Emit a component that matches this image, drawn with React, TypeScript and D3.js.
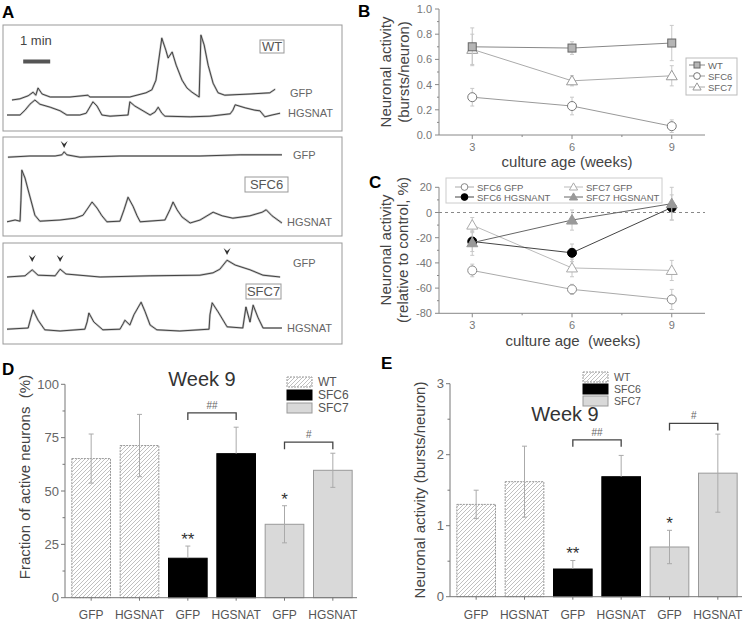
import React from "react";
import * as d3 from "d3";

// ---------- panel A: calcium traces, [time (s), dF (a.u.)] ----------
const wtGfpTrace: [number, number][] = [
  [11, -0.05], [29, -0.03], [47, 0.02], [58, 0.08], [64, 0.03], [69, 0.15], [78, 0.05], [96, 0],
  [140, 0], [180, 0.03], [184, 0], [273, 0], [309, 0.07], [322, 0.12], [331, 0.28], [344, 0.98],
  [353, 0.78], [358, 0.65], [367, 0.75], [376, 0.53], [389, 0.28], [400, 0.15], [411, 0.08],
  [427, 0], [431, 1.03], [438, 0.87], [447, 0.53], [458, 0.23], [469, 0.07], [484, 0.03],
  [540, 0.05], [584, 0.07], [596, 0.13],
];
const wtHgsTrace: [number, number][] = [
  [0, 0], [29, 0], [40, 0.08], [51, 0.18], [62, 0.25], [73, 0.18], [96, 0.13], [118, 0.07],
  [133, 0], [162, 0], [176, 0.03], [191, 0.22], [200, 0.15], [211, 0], [229, -0.02], [269, 0],
  [273, 0.22], [284, 0.15], [300, 0.08], [318, 0], [329, 0.05], [336, 0.13], [344, 0.03],
  [351, -0.02], [407, -0.03], [451, -0.02], [496, 0.02], [502, 0.08], [507, 0.17], [529, 0.12],
  [551, 0.08], [562, 0.07], [573, -0.03], [589, 0], [607, 0.03],
];
const sfc6GfpTrace: [number, number][] = [
  [2, -0.02], [51, 0], [107, 0], [122, 0.02], [127, 0.07], [133, 0.02], [162, -0.02],
  [251, 0], [340, 0], [429, 0], [518, 0.02], [611, 0.02],
];
const sfc6HgsTrace: [number, number][] = [
  [0, -0.03], [18, 0], [29, -0.02], [31, 0.33], [33, 0.83], [40, 0.7], [47, 0.5], [56, 0.25],
  [62, 0.08], [73, -0.02], [118, 0], [151, 0.03], [169, 0.08], [180, 0.2], [189, 0.3], [200, 0.2],
  [211, 0.07], [222, -0.03], [251, -0.02], [260, 0.17], [269, 0.38], [280, 0.23], [289, 0.07],
  [296, -0.03], [351, 0], [362, 0.17], [369, 0.3], [378, 0.17], [389, 0.05], [407, -0.05],
  [429, 0], [458, 0.13], [478, 0.07], [502, 0.03], [540, 0.07], [567, 0.13], [576, 0.17],
  [589, 0.07], [611, -0.05],
];
const sfc7GfpTrace: [number, number][] = [
  [0, 0], [40, 0.02], [56, 0.12], [69, 0.03], [107, 0.02], [118, 0.13], [131, 0.05], [207, 0],
  [318, 0.02], [429, 0.03], [458, 0.07], [473, 0.13], [489, 0.28], [507, 0.2], [540, 0.12],
  [569, 0.03], [607, 0],
];
const sfc7HgsTrace: [number, number][] = [
  [0, -0.02], [47, 0], [53, 0.17], [58, 0.3], [69, 0.13], [84, -0.03], [118, -0.05], [173, -0.02],
  [178, 0.1], [182, 0.25], [193, 0.1], [213, -0.03], [251, -0.02], [258, 0.07], [262, 0.13],
  [273, 0.05], [282, 0.22], [298, 0.43], [307, 0.27], [318, 0.05], [333, -0.03], [384, -0.05],
  [449, -0.02], [451, 0.22], [456, 0.42], [469, 0.27], [489, 0.02], [524, 0], [531, 0.35],
  [540, 0.1], [547, 0.38], [558, 0.17], [569, 0], [611, 0],
];
const sfc6GfpArrows = [127];
const sfc7GfpArrows = [56, 118, 489];

// ---------- panel B ----------
const weeks = [3, 6, 9];
const wtBursts = [0.7, 0.69, 0.73];
const wtBurstsErr = [0.15, 0.05, 0.14];
const sfc6Bursts = [0.3, 0.23, 0.07];
const sfc6BurstsErr = [0.07, 0.07, 0.05];
const sfc7Bursts = [0.68, 0.43, 0.47];
const sfc7BurstsErr = [0.12, 0.04, 0.08];

// ---------- panel C ----------
const sfc6GfpRel = [-46, -61, -69];
const sfc6GfpRelErr = [5, 4, 8];
const sfc6HgsRel = [-23, -32, 4];
const sfc6HgsRelErr = [8, 7, 10];
const sfc7GfpRel = [-10, -44, -46];
const sfc7GfpRelErr = [6, 7, 8];
const sfc7HgsRel = [-24, -6, 7];
const sfc7HgsRelErr = [10, 8, 13];

// ---------- panels D, E ----------
const barLabels = ["GFP", "HGSNAT", "GFP", "HGSNAT", "GFP", "HGSNAT"];
const barGroups = ["WT", "WT", "SFC6", "SFC6", "SFC7", "SFC7"];
const activeFraction = [65.2, 71.3, 18.5, 67.5, 34.4, 59.7];
const activeFractionErr = [11.5, 14.6, 5.7, 12.4, 8.7, 8];
const burstRate = [1.3, 1.62, 0.39, 1.69, 0.7, 1.74];
const burstRateErr = [0.2, 0.5, 0.12, 0.3, 0.235, 0.55];

const FONT = "'Liberation Sans', Arial, Helvetica, sans-serif";

const Marker = ({ shape, x, y, fill, stroke, s = 1 }: any) => {
  if (shape === "square")
    return <rect x={x - 4 * s} y={y - 4 * s} width={8 * s} height={8 * s} fill={fill} stroke={stroke} />;
  if (shape === "circle") return <circle cx={x} cy={y} r={4.5 * s} fill={fill} stroke={stroke} />;
  return (
    <path
      d={`M${x},${y - 5.5 * s}L${x - 5.5 * s},${y + 4 * s}L${x + 5.5 * s},${y + 4 * s}Z`}
      fill={fill}
      stroke={stroke}
    />
  );
};

// ---------------- Panel A ----------------
const PanelA = () => {
  const x = d3.scaleLinear().domain([0, 620]).range([7, 286]);
  const traces = [
    { data: wtGfpTrace, base: 97 },
    { data: wtHgsTrace, base: 115 },
    { data: sfc6GfpTrace, base: 156 },
    { data: sfc6HgsTrace, base: 220 },
    { data: sfc7GfpTrace, base: 277 },
    { data: sfc7HgsTrace, base: 328 },
  ];
  const boxes = [
    { y: 25, h: 106 },
    { y: 137, h: 99 },
    { y: 243, h: 101 },
  ];
  const labels = [
    { t: "GFP", x: 290, y: 97 },
    { t: "HGSNAT", x: 288, y: 117 },
    { t: "GFP", x: 293, y: 159 },
    { t: "HGSNAT", x: 287, y: 226 },
    { t: "GFP", x: 293, y: 267 },
    { t: "HGSNAT", x: 287, y: 332 },
  ];
  const tags = [
    { t: "WT", x: 260, y: 40, w: 24, h: 13 },
    { t: "SFC6", x: 245, y: 177, w: 43, h: 15 },
    { t: "SFC7", x: 246, y: 284, w: 35, h: 15 },
  ];
  const arrow = (t: number, yTip: number, k: string) => {
    const ax = x(t);
    return (
      <path
        key={k}
        d={`M${ax - 3.5},${yTip - 7}L${ax},${yTip}L${ax + 3.5},${yTip - 7}L${ax},${yTip - 4}Z`}
        fill="#333"
      />
    );
  };
  return (
    <g>
      {boxes.map((b, i) => (
        <rect key={i} x={3} y={b.y} width={339} height={b.h} fill="none" stroke="#999" />
      ))}
      {traces.map((tr, i) => {
        const y = d3.scaleLinear().domain([0, 1]).range([tr.base, tr.base - 60]);
        const line = d3
          .line<[number, number]>()
          .x((d) => x(d[0]))
          .y((d) => y(d[1]));
        const dd = line(tr.data) || "";
        return (
          <g key={i}>
            <path d={dd} fill="none" stroke="#c4c4c4" strokeWidth={2.2} strokeLinejoin="round" />
            <path d={dd} fill="none" stroke="#222" strokeWidth={0.8} strokeLinejoin="round" />
          </g>
        );
      })}
      {labels.map((l, i) => (
        <text key={i} x={l.x} y={l.y} fontSize={11} fill="#666">
          {l.t}
        </text>
      ))}
      {tags.map((t, i) => (
        <g key={i}>
          <rect x={t.x} y={t.y} width={t.w} height={t.h} fill="#fff" stroke="#999" />
          <text x={t.x + t.w / 2} y={t.y + t.h / 2 + 4.5} textAnchor="middle" fontSize={13} fill="#555">
            {t.t}
          </text>
        </g>
      ))}
      {sfc6GfpArrows.map((t, i) => arrow(t, 148, "a6" + i))}
      {sfc7GfpArrows.map((t, i) => arrow(t, t > 400 ? 255 : 262, "a7" + i))}
      <text x={20} y={45} fontSize={13} fill="#444">
        1 min
      </text>
      <rect x={x(36)} y={59.5} width={x(96) - x(36)} height={4} fill="#555" />
    </g>
  );
};

// ---------------- line panel helpers ----------------
const xWeeks = d3.scaleLinear().domain([2, 10]).range([439, 705]);

const LineAxes = ({ y, major, minor, fmt, y0, y1 }: any) => (
  <g stroke="#888" fill="none">
    <line x1={439} x2={439} y1={y0} y2={y1} />
    <line x1={439} x2={705} y1={y0} y2={y0} />
    {major.map((v: number) => (
      <line key={"M" + v} x1={435} x2={439} y1={y(v)} y2={y(v)} />
    ))}
    {minor.map((v: number) => (
      <line key={"m" + v} x1={437} x2={439} y1={y(v)} y2={y(v)} />
    ))}
    {weeks.map((w) => (
      <line key={"w" + w} x1={xWeeks(w)} x2={xWeeks(w)} y1={y0} y2={y0 + 4} />
    ))}
    {[4.5, 7.5].map((w) => (
      <line key={"mw" + w} x1={xWeeks(w)} x2={xWeeks(w)} y1={y0} y2={y0 + 2} />
    ))}
    {major.map((v: number) => (
      <text key={"t" + v} x={432} y={y(v) + 4} fontSize={11} fill="#777" stroke="none" textAnchor="end">
        {fmt(v)}
      </text>
    ))}
    {weeks.map((w) => (
      <text key={"tw" + w} x={xWeeks(w)} y={y0 + 16} fontSize={11} fill="#777" stroke="none" textAnchor="middle">
        {w}
      </text>
    ))}
  </g>
);

const Series = ({ y, vals, errs, shape, fill, stroke, lineColor }: any) => {
  const pts = weeks.map((w, i) => [xWeeks(w), y(vals[i])] as [number, number]);
  return (
    <g>
      {weeks.map((w, i) => (
        <g key={i} stroke="#c8c8c8">
          <line x1={xWeeks(w)} x2={xWeeks(w)} y1={y(vals[i] - errs[i])} y2={y(vals[i] + errs[i])} />
          <line x1={xWeeks(w) - 2} x2={xWeeks(w) + 2} y1={y(vals[i] - errs[i])} y2={y(vals[i] - errs[i])} />
          <line x1={xWeeks(w) - 2} x2={xWeeks(w) + 2} y1={y(vals[i] + errs[i])} y2={y(vals[i] + errs[i])} />
        </g>
      ))}
      <path d={d3.line()(pts) || ""} fill="none" stroke={lineColor} />
      {pts.map((p, i) => (
        <Marker key={i} shape={shape} x={p[0]} y={p[1]} fill={fill} stroke={stroke} />
      ))}
    </g>
  );
};

const LegendItem = ({ x, y, label, shape, fill, stroke, lineColor, w = 19 }: any) => (
  <g>
    <line x1={x} x2={x + w} y1={y} y2={y} stroke={lineColor} />
    <Marker shape={shape} x={x + w / 2} y={y} fill={fill} stroke={stroke} s={0.75} />
    <text x={x + w + 3} y={y + 3.5} fontSize={9.5} fill="#666">
      {label}
    </text>
  </g>
);

// ---------------- Panel B ----------------
const PanelB = () => {
  const y = d3.scaleLinear().domain([0, 1]).range([135, 9]);
  return (
    <g>
      <LineAxes
        y={y}
        y0={135}
        y1={9}
        major={d3.range(0, 1.01, 0.2)}
        minor={d3.range(0.1, 1, 0.2)}
        fmt={d3.format(".1f")}
      />
      <Series y={y} vals={sfc6Bursts} errs={sfc6BurstsErr} shape="circle" fill="#fff" stroke="#777" lineColor="#999" />
      <Series y={y} vals={sfc7Bursts} errs={sfc7BurstsErr} shape="tri" fill="#fff" stroke="#999" lineColor="#aaa" />
      <Series y={y} vals={wtBursts} errs={wtBurstsErr} shape="square" fill="#b5b5b5" stroke="#666" lineColor="#888" />
      <rect x={686} y={58} width={51} height={37} fill="#fff" stroke="#bbb" />
      <LegendItem x={689} y={65} w={16} label="WT" shape="square" fill="#b5b5b5" stroke="#666" lineColor="#888" />
      <LegendItem x={689} y={76} w={16} label="SFC6" shape="circle" fill="#fff" stroke="#777" lineColor="#999" />
      <LegendItem x={689} y={87} w={16} label="SFC7" shape="tri" fill="#fff" stroke="#999" lineColor="#aaa" />
      <text x={567} y={167} fontSize={15} fill="#444" textAnchor="middle">
        culture age (weeks)
      </text>
      <text transform="translate(391,72) rotate(-90)" fontSize={15} fill="#444" textAnchor="middle">
        Neuronal activity
      </text>
      <text transform="translate(409,72) rotate(-90)" fontSize={15} fill="#444" textAnchor="middle">
        (bursts/neuron)
      </text>
    </g>
  );
};

// ---------------- Panel C ----------------
const PanelC = () => {
  const y = d3.scaleLinear().domain([-80, 20]).range([313.3, 187.3]);
  return (
    <g>
      <LineAxes
        y={y}
        y0={313.3}
        y1={187.3}
        major={d3.range(-80, 21, 20)}
        minor={d3.range(-70, 20, 20)}
        fmt={(v: number) => String(v)}
      />
      <line x1={439} x2={705} y1={y(0)} y2={y(0)} stroke="#888" strokeDasharray="3,3" />
      <Series y={y} vals={sfc6GfpRel} errs={sfc6GfpRelErr} shape="circle" fill="#fff" stroke="#888" lineColor="#aaa" />
      <Series y={y} vals={sfc7GfpRel} errs={sfc7GfpRelErr} shape="tri" fill="#fff" stroke="#aaa" lineColor="#bbb" />
      <Series y={y} vals={sfc6HgsRel} errs={sfc6HgsRelErr} shape="circle" fill="#000" stroke="#000" lineColor="#444" />
      <Series y={y} vals={sfc7HgsRel} errs={sfc7HgsRelErr} shape="tri" fill="#999" stroke="#999" lineColor="#666" />
      <rect x={446} y={178} width={216} height={25} fill="#fff" stroke="#ccc" />
      <LegendItem x={455} y={187} label="SFC6 GFP" shape="circle" fill="#fff" stroke="#888" lineColor="#aaa" />
      <LegendItem x={455} y={197} label="SFC6 HGSNANT" shape="circle" fill="#000" stroke="#000" lineColor="#444" />
      <LegendItem x={564} y={187} label="SFC7 GFP" shape="tri" fill="#fff" stroke="#aaa" lineColor="#bbb" />
      <LegendItem x={564} y={197} label="SFC7 HGSNANT" shape="tri" fill="#999" stroke="#999" lineColor="#666" />
      <text x={573} y={346} fontSize={15} fill="#444" textAnchor="middle" style={{ whiteSpace: "pre" }}>
        {"culture age  (weeks)"}
      </text>
      <text transform="translate(391,250) rotate(-90)" fontSize={15} fill="#444" textAnchor="middle">
        Neuronal activity
      </text>
      <text transform="translate(408,250) rotate(-90)" fontSize={15} fill="#444" textAnchor="middle">
        (relative to control, %)
      </text>
    </g>
  );
};

// ---------------- Bar panels ----------------
const groupStyle: any = {
  WT: { fill: "url(#hatch)", stroke: "#999", dash: "2,1" },
  SFC6: { fill: "#000", stroke: "#000", dash: null },
  SFC7: { fill: "#d9d9d9", stroke: "#999", dash: null },
};

const BarPanel = ({ cfg }: any) => {
  const x = d3.scaleBand<number>().domain(d3.range(barLabels.length)).range(cfg.xr).paddingInner(0.2).paddingOuter(0.1);
  const y = d3.scaleLinear().domain(cfg.yd).range(cfg.yr);
  const ax = cfg.axisX;
  const y0 = y(0);
  const cx = (i: number) => (x(i) || 0) + x.bandwidth() / 2;
  return (
    <g>
      {cfg.vals.map((v: number, i: number) => {
        const st = groupStyle[barGroups[i]];
        return (
          <rect
            key={i}
            x={x(i)}
            y={y(v)}
            width={x.bandwidth()}
            height={y0 - y(v)}
            fill={st.fill}
            stroke={st.stroke}
            strokeDasharray={st.dash || undefined}
          />
        );
      })}
      {cfg.vals.map((v: number, i: number) => {
        const e = cfg.errs[i];
        const lo = barGroups[i] === "SFC6" ? v : v - e;
        return (
          <g key={"e" + i} stroke="#aaa">
            <line x1={cx(i)} x2={cx(i)} y1={y(lo)} y2={y(v + e)} />
            <line x1={cx(i) - 2.5} x2={cx(i) + 2.5} y1={y(v + e)} y2={y(v + e)} />
            {barGroups[i] !== "SFC6" && <line x1={cx(i) - 2.5} x2={cx(i) + 2.5} y1={y(v - e)} y2={y(v - e)} />}
          </g>
        );
      })}
      {/* axes */}
      <g stroke="#777" fill="none">
        <line x1={ax} x2={ax} y1={y0} y2={y(cfg.yd[1])} />
        <line x1={ax} x2={cfg.xr[1]} y1={y0} y2={y0} />
        {cfg.major.map((v: number) => (
          <line key={"M" + v} x1={ax - 4} x2={ax} y1={y(v)} y2={y(v)} />
        ))}
        {cfg.minor.map((v: number) => (
          <line key={"m" + v} x1={ax - 2.5} x2={ax} y1={y(v)} y2={y(v)} />
        ))}
        {barLabels.map((_, i) => (
          <line key={"x" + i} x1={cx(i)} x2={cx(i)} y1={y0} y2={y0 + 3} />
        ))}
      </g>
      {cfg.major.map((v: number) => (
        <text key={"t" + v} x={ax - 6} y={y(v) + 4.5} fontSize={13} fill="#666" textAnchor="end">
          {v}
        </text>
      ))}
      {barLabels.map((l, i) => (
        <text key={"l" + i} x={cx(i)} y={619} fontSize={12} fill="#555" textAnchor="middle">
          {l}
        </text>
      ))}
      {/* significance */}
      {cfg.stars.map((s: any, i: number) => (
        <text
          key={"s" + i}
          x={cx(s.i)}
          y={y(cfg.vals[s.i] + cfg.errs[s.i]) - 1}
          fontSize={17}
          fill="#333"
          textAnchor="middle"
        >
          {s.t}
        </text>
      ))}
      {cfg.brackets.map((b: any, i: number) => {
        const by = y(b.v);
        return (
          <g key={"b" + i}>
            <path
              d={`M${cx(b.a)},${by + 7}V${by}H${cx(b.b)}V${by + 7}`}
              fill="none"
              stroke="#444"
              strokeWidth={1.3}
            />
            <text x={(cx(b.a) + cx(b.b)) / 2} y={by - 4} fontSize={10} fill="#666" textAnchor="middle">
              {b.t}
            </text>
          </g>
        );
      })}
      {/* title & legend */}
      <text x={cfg.title[0]} y={cfg.title[1]} fontSize={20} fill="#333" textAnchor="middle">
        Week 9
      </text>
      {["WT", "SFC6", "SFC7"].map((g, i) => {
        const st = groupStyle[g];
        const ly = cfg.legend[1] + i * cfg.legendStep;
        return (
          <g key={g}>
            <rect
              x={cfg.legend[0]}
              y={ly}
              width={25}
              height={10}
              fill={st.fill}
              stroke={st.stroke}
              strokeDasharray={st.dash || undefined}
            />
            <text x={cfg.legend[0] + 31} y={ly + 9} fontSize={cfg.legendFont} fill="#555">
              {g}
            </text>
          </g>
        );
      })}
      <text
        transform={`translate(${cfg.ylab[0]},${cfg.ylab[1]}) rotate(-90)`}
        fontSize={15}
        fill="#444"
        textAnchor="middle"
        style={{ whiteSpace: "pre" }}
      >
        {cfg.ytitle}
      </text>
    </g>
  );
};

const dCfg = {
  xr: [67, 357],
  yd: [0, 100],
  yr: [597.7, 384.3],
  axisX: 65,
  vals: activeFraction,
  errs: activeFractionErr,
  major: [0, 25, 50, 75, 100],
  minor: [12.5, 37.5, 62.5, 87.5],
  stars: [
    { i: 2, t: "**" },
    { i: 4, t: "*" },
  ],
  brackets: [
    { a: 2, b: 3, v: 86.6, t: "##" },
    { a: 4, b: 5, v: 72.9, t: "#" },
  ],
  title: [202, 386],
  legend: [287, 377],
  legendStep: 13,
  legendFont: 12,
  ylab: [30, 477],
  ytitle: "Fraction of active neurons  (%)",
};

const eCfg = {
  xr: [452, 742],
  yd: [0, 3],
  yr: [596.7, 383.7],
  axisX: 450,
  vals: burstRate,
  errs: burstRateErr,
  major: [0, 1, 2, 3],
  minor: [0.5, 1.5, 2.5],
  stars: [
    { i: 2, t: "**" },
    { i: 4, t: "*" },
  ],
  brackets: [
    { a: 2, b: 3, v: 2.21, t: "##" },
    { a: 4, b: 5, v: 2.44, t: "#" },
  ],
  title: [565, 421],
  legend: [583, 372],
  legendStep: 12,
  legendFont: 10.5,
  ylab: [425, 490],
  ytitle: "Neuronal activity (bursts/neuron)",
};

export default function App() {
  return (
    <svg
      width={745}
      height={621}
      fontFamily={FONT}
      style={{ position: "absolute", left: 0, top: 0, background: "#fff" }}
    >
      <defs>
        <pattern id="hatch" patternUnits="userSpaceOnUse" width={4} height={4}>
          <rect width={4} height={4} fill="#fff" />
          <path d="M-1,1L1,-1M0,4L4,0M3,5L5,3" stroke="#a5a5a5" strokeWidth={0.7} />
        </pattern>
      </defs>
      <PanelA />
      <PanelB />
      <PanelC />
      <BarPanel cfg={dCfg} />
      <BarPanel cfg={eCfg} />
      <g fontWeight="bold" fontSize={17} fill="#000">
        <text x={2} y={18}>A</text>
        <text x={358} y={17}>B</text>
        <text x={369} y={188}>C</text>
        <text x={2} y={375}>D</text>
        <text x={381} y={369}>E</text>
      </g>
    </svg>
  );
}
